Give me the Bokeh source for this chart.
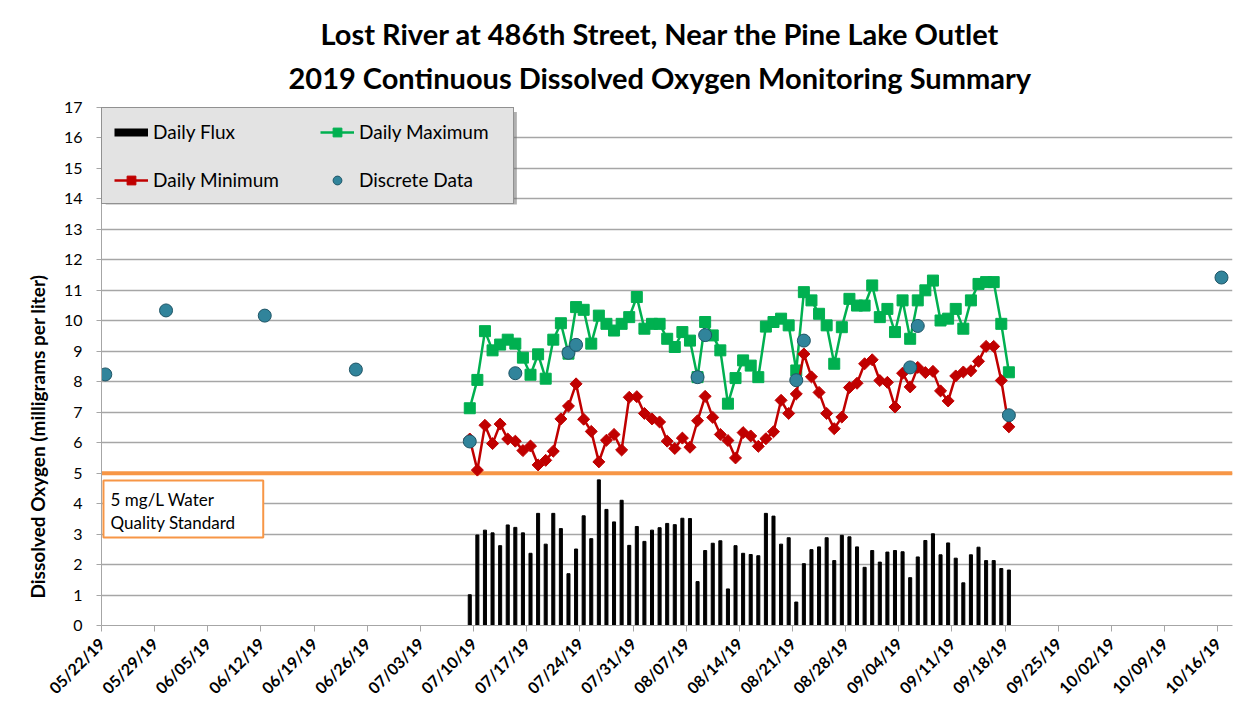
import numpy as np
import pandas as pd
from bokeh.plotting import figure
from bokeh.models import (ColumnDataSource, FixedTicker, DatetimeTickFormatter, Range1d, Span,
                          BoxAnnotation, Label, Legend, LegendItem, Title)
from bokeh.embed import file_html
from bokeh.resources import INLINE

# ---------------- data ----------------
title_line1 = "Lost River at 486th Street, Near the Pine Lake Outlet"
title_line2 = "2019 Continuous Dissolved Oxygen Monitoring Summary"
y_label = "Dissolved Oxygen (milligrams per liter)"
standard_text = ["5 mg/L Water", "Quality Standard"]
standard_value = 5

continuous_start = "2019-07-09"
daily_max = [7.13, 8.06, 9.66, 9.03, 9.22, 9.38, 9.25, 8.79, 8.23, 8.90,
             8.10, 9.38, 9.92, 8.92, 10.45, 10.36, 9.25, 10.17, 9.90, 9.68,
             9.90, 10.12, 10.78, 9.74, 9.90, 9.90, 9.41, 9.14, 9.63, 9.35,
             8.15, 9.96, 9.52, 9.03, 7.28, 8.12, 8.70, 8.53, 8.15, 9.81,
             9.96, 10.07, 9.85, 8.37, 10.94, 10.67, 10.23, 9.85, 8.59, 9.79,
             10.72, 10.50, 10.50, 11.16, 10.12, 10.39, 9.63, 10.67, 9.41, 10.67,
             11.00, 11.32, 10.01, 10.07, 10.39, 9.74, 10.67, 11.21, 11.27, 11.27,
             9.90, 8.31]
daily_min = [6.12, 5.10, 6.57, 5.97, 6.61, 6.12, 6.05, 5.74, 5.89, 5.27,
             5.42, 5.72, 6.78, 7.20, 7.93, 6.77, 6.37, 5.37, 6.08, 6.27,
             5.76, 7.49, 7.51, 6.96, 6.78, 6.68, 6.05, 5.81, 6.15, 5.85,
             6.72, 7.52, 6.83, 6.27, 6.07, 5.50, 6.33, 6.22, 5.88, 6.13,
             6.36, 7.39, 6.96, 7.60, 8.91, 8.16, 7.65, 6.96, 6.46, 6.84,
             7.81, 7.95, 8.59, 8.72, 8.04, 7.98, 7.17, 8.28, 7.83, 8.47,
             8.30, 8.34, 7.70, 7.37, 8.19, 8.32, 8.36, 8.67, 9.16, 9.16,
             8.04, 6.52]
daily_flux = [1.01, 2.97, 3.13, 3.04, 2.62, 3.30, 3.22, 3.04, 2.37, 3.68,
              2.67, 3.68, 3.18, 1.70, 2.51, 3.60, 2.85, 4.78, 3.81, 3.40,
              4.11, 2.63, 3.25, 2.76, 3.13, 3.21, 3.35, 3.31, 3.52, 3.51,
              1.44, 2.46, 2.70, 2.78, 1.20, 2.62, 2.37, 2.33, 2.29, 3.68,
              3.59, 2.67, 2.88, 0.77, 2.03, 2.49, 2.58, 2.88, 2.13, 2.96,
              2.91, 2.58, 1.91, 2.46, 2.08, 2.41, 2.46, 2.42, 1.57, 2.25,
              2.79, 3.01, 2.32, 2.71, 2.21, 1.40, 2.32, 2.57, 2.13, 2.13,
              1.87, 1.82]
discrete_dates = ["2019-05-22", "2019-05-30", "2019-06-12", "2019-06-24", "2019-07-09",
                  "2019-07-15", "2019-07-22", "2019-07-23", "2019-08-08", "2019-08-09",
                  "2019-08-21", "2019-08-22", "2019-09-05", "2019-09-06", "2019-09-18",
                  "2019-10-16"]
discrete_values = [8.24, 10.34, 10.17, 8.40, 6.04, 8.28, 8.95, 9.21, 8.15, 9.53,
                   8.05, 9.35, 8.47, 9.83, 6.90, 11.42]
tick_labels = ["05/22/19", "05/29/19", "06/05/19", "06/12/19", "06/19/19", "06/26/19",
               "07/03/19", "07/10/19", "07/17/19", "07/24/19", "07/31/19", "08/07/19",
               "08/14/19", "08/21/19", "08/28/19", "09/04/19", "09/11/19", "09/18/19",
               "09/25/19", "10/02/19", "10/09/19", "10/16/19"]
y_ticks = list(range(0, 18))

# ---------------- helpers ----------------
DAY = 86400000.0
HALF_DAY = pd.Timedelta(hours=12)

def ms(ts):
    return pd.Timestamp(ts).value / 1e6

tick_ms = [ms(pd.to_datetime(t, format="%m/%d/%y")) for t in tick_labels]
x0 = tick_ms[0]

cont_dates = pd.date_range(continuous_start, periods=len(daily_max), freq="D") + HALF_DAY
src = ColumnDataSource(dict(date=cont_dates, dmax=daily_max, dmin=daily_min, flux=daily_flux))
dsrc = ColumnDataSource(dict(date=pd.to_datetime(discrete_dates) + HALF_DAY, val=discrete_values))

FONT = "Lato"
GREEN = "#00B050"
RED = "#C00000"
TEAL = "#31849B"
ORANGE = "#F79646"
GRID = "#a6a6a6"

W, H = 1240, 722
p = figure(width=W, height=H, x_axis_type="datetime",
           x_range=Range1d(x0, x0 + 148.95 * DAY), y_range=Range1d(0, 17),
           output_backend="svg", toolbar_location=None, title=None,
           min_border_left=101, min_border_right=W - 1232, min_border_top=107,
           min_border_bottom=H - 625)
p.outline_line_color = None
p.background_fill_color = "white"
p.border_fill_color = "white"

# titles (added nearest-first)
p.add_layout(Title(text=title_line2, align="left", text_font=FONT, text_font_size="29px",
                   text_font_style="bold", text_color="black", text_line_height=0.8,
                   standoff=25, offset=187), "above")
p.add_layout(Title(text=title_line1, align="left", text_font=FONT, text_font_size="29px",
                   text_font_style="bold", text_color="black", standoff=-10, offset=219), "above")

# grid
p.xgrid.visible = False
p.ygrid.ticker = FixedTicker(ticks=y_ticks)
p.ygrid.grid_line_color = GRID
p.ygrid.grid_line_width = 1.5

# axes
p.yaxis.ticker = FixedTicker(ticks=y_ticks)
p.yaxis.minor_tick_line_color = None
p.yaxis.major_tick_out = 5
p.yaxis.major_tick_in = 0
p.yaxis.major_tick_line_color = GRID
p.yaxis.axis_line_color = GRID
p.yaxis.major_label_standoff = 14
p.yaxis.major_label_text_font = FONT
p.yaxis.major_label_text_font_size = "16px"
p.yaxis.major_label_text_color = "black"

# y-axis title as a side title, lower than the frame centre as in the original
p.add_layout(Title(text=y_label, align="left", text_font=FONT, text_font_size="19px",
                   text_font_style="bold", text_color="black", standoff=23, offset=27), "left")

fmt = "%m/%d/%y"
p.xaxis.ticker = FixedTicker(ticks=tick_ms)
p.xaxis.formatter = DatetimeTickFormatter(milliseconds=fmt, seconds=fmt, minsec=fmt, minutes=fmt,
                                          hourmin=fmt, hours=fmt, days=fmt, months=fmt, years=fmt)
p.xaxis.minor_tick_line_color = None
p.xaxis.major_tick_out = 6
p.xaxis.major_tick_in = 0
p.xaxis.major_tick_line_color = GRID
p.xaxis.axis_line_color = GRID
p.xaxis.major_label_orientation = np.pi / 4
p.xaxis.major_label_text_font = FONT
p.xaxis.major_label_text_font_size = "16px"
p.xaxis.major_label_text_font_style = "bold"
p.xaxis.major_label_text_color = "black"
p.xaxis.major_label_standoff = 9

# standard line
p.add_layout(Span(location=standard_value, dimension="width", line_color=ORANGE,
                  line_width=4, level="underlay"))

# glyphs
p.vbar(x="date", top="flux", bottom=0, width=0.4 * DAY, source=src,
       fill_color="black", line_color="black")
gl = p.line("date", "dmax", source=src, line_color=GREEN, line_width=2.5)
gs = p.scatter("date", "dmax", source=src, marker="square", size=11,
               fill_color=GREEN, line_color=GREEN)
rl = p.line("date", "dmin", source=src, line_color=RED, line_width=2.5)
rs = p.scatter("date", "dmin", source=src, marker="square", angle=np.pi / 4, size=8.5,
               fill_color=RED, line_color=RED)
dc = p.scatter("date", "val", source=dsrc, marker="circle", size=13,
               fill_color=TEAL, line_color="#1f5566", line_width=1)
# legend key for the flux bars (one non-drawn point)
flux_key = p.line(x=[cont_dates[0]], y=[np.nan], line_color="black", line_width=8)

# standard box
p.add_layout(BoxAnnotation(left=x0 + 0.26 * DAY, right=x0 + 21.3 * DAY, bottom=2.89, top=4.76,
                           fill_color="white", fill_alpha=1, line_color=ORANGE,
                           line_alpha=1, line_width=2))
p.add_layout(Label(x=x0 + 1.2 * DAY, y=4.13, text=standard_text[0], text_font=FONT,
                   text_font_size="17px", text_baseline="middle", text_color="black"))
p.add_layout(Label(x=x0 + 1.2 * DAY, y=3.38, text=standard_text[1], text_font=FONT,
                   text_font_size="17px", text_baseline="middle", text_color="black"))

# legend drop shadow
p.add_layout(BoxAnnotation(left=x0 + 0.55 * DAY, right=x0 + 54.7 * DAY, bottom=13.82, top=16.85,
                           fill_color="#707070", fill_alpha=0.55, line_color=None))

legend = Legend(items=[LegendItem(label="Daily Flux", renderers=[flux_key]),
                       LegendItem(label="Daily Minimum", renderers=[rl, rs]),
                       LegendItem(label="Daily Maximum", renderers=[gl, gs]),
                       LegendItem(label="Discrete Data", renderers=[dc])],
                ncols=2, location="top_left", margin=0, padding=12, spacing=25,
                glyph_width=34, glyph_height=22, label_height=22, label_standoff=5,
                label_width=142,
                label_text_font=FONT, label_text_font_size="19px", label_text_color="black",
                border_line_color="#404040", border_line_width=1.5,
                background_fill_color="#e3e3e3", background_fill_alpha=1)
p.add_layout(legend)

open("out.html", "w").write(file_html(p, INLINE))
